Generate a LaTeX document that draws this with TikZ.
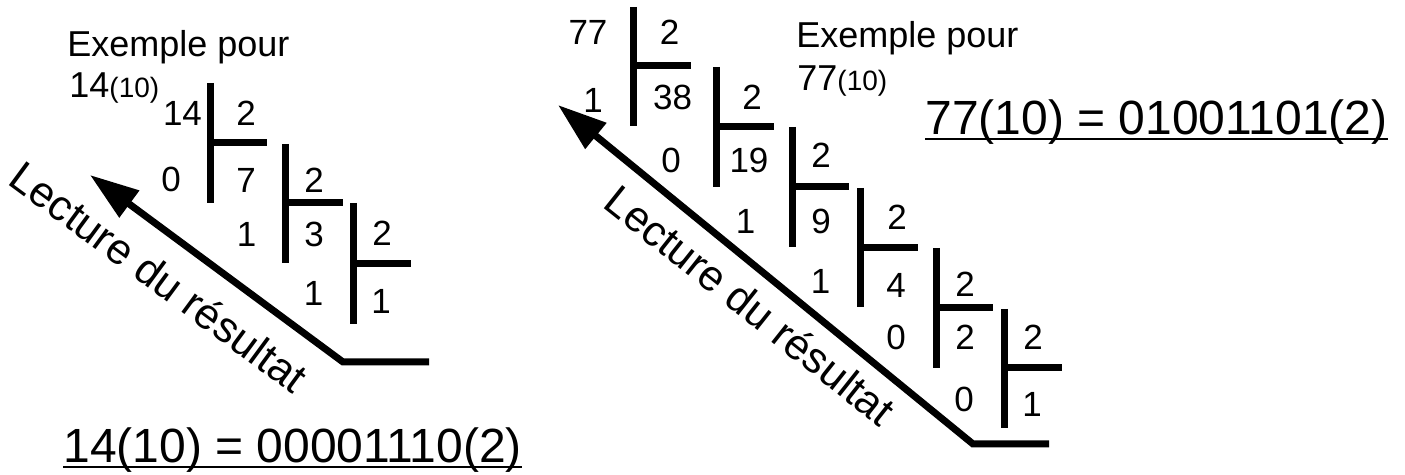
\documentclass[tikz,border=0pt]{standalone}
\usepackage{fontspec}
\setmainfont{Liberation Sans}
\usetikzlibrary{arrows.meta}

\begin{document}
\begin{tikzpicture}[x=0.5pt,y=-0.5pt,line join=miter,
  num/.style={font=\fontsize{17.5pt}{20pt}\selectfont,anchor=base,inner sep=0pt},
  title/.style={font=\fontsize{18pt}{21pt}\selectfont,anchor=base west,inner sep=0pt},
  eqn/.style={font=\fontsize{24pt}{28pt}\selectfont,anchor=base west,inner sep=0pt},
  lecture/.style={font=\fontsize{21.5pt}{25pt}\selectfont,anchor=base west,inner sep=0pt},
  bar/.style={line width=3.5pt},
  readarrow/.style={bar,-{Triangle[length=24.5pt,width=16pt]}}]
  \useasboundingbox (0,0) rectangle (1405,475);

  \node[title] (aTitle) at (67,57) {Exemple pour};
  \node[title] (aBase) at (69,98) {14{\fontsize{14pt}{16pt}\selectfont(10)}};

  \draw[bar] (210,83) -- (210,203);
  \draw[bar] (210,143) -- (267,143);
  \draw[bar] (285,144) -- (285,263);
  \draw[bar] (285,203) -- (343,203);
  \draw[bar] (353,203) -- (353,324);
  \draw[bar] (353,264) -- (411,264);

  \node[num] (aN0) at (182.5,126) {14};
  \node[num] (aD0) at (246,126) {2};
  \node[num] (aR0) at (171,192) {0};
  \node[num] (aQ0) at (246,193) {7};
  \node[num] (aD1) at (314,193) {2};
  \node[num] (aR1) at (246.5,247) {1};
  \node[num] (aQ1) at (314,247) {3};
  \node[num] (aD2) at (382,246) {2};
  \node[num] (aR2) at (313.5,306) {1};
  \node[num] (aQ2) at (381,314) {1};

  \coordinate (aEnd) at (429,362);
  \coordinate (aCorner) at (343,362);
  \coordinate (aTip) at (90,175);
  \draw[readarrow] (aEnd) -- (aCorner) -- (aTip);
  \node[lecture,rotate=-36.4] (aRead) at (6,183) {Lecture du résultat};

  \node[eqn] (aResult) at (63,463) {14(10) = 00001110(2)};
  \draw[line width=1.3pt] ([yshift=-2pt]aResult.base west) -- ([yshift=-2pt]aResult.base east);

  \node[title] (bTitle) at (796,48) {Exemple pour};
  \node[title] (bBase) at (797,91) {77{\fontsize{14pt}{16pt}\selectfont(10)}};

  \draw[bar] (633,7) -- (633,126);
  \draw[bar] (633,66) -- (691,66);
  \draw[bar] (716.5,67) -- (716.5,187);
  \draw[bar] (716.5,127) -- (774,127);
  \draw[bar] (792,127) -- (792,247);
  \draw[bar] (792,187) -- (849,187);
  \draw[bar] (860,188) -- (860,307);
  \draw[bar] (860,248) -- (918,248);
  \draw[bar] (936,248) -- (936,368);
  \draw[bar] (936,308) -- (993,308);
  \draw[bar] (1004,309) -- (1004,428);
  \draw[bar] (1004,368) -- (1062,368);

  \node[num] (bN0) at (588,45) {77};
  \node[num] (bD0) at (669.5,45) {2};
  \node[num] (bR0) at (593,113) {1};
  \node[num] (bQ0) at (672.7,110) {38};
  \node[num] (bD1) at (752,110) {2};
  \node[num] (bR1) at (671,173) {0};
  \node[num] (bQ1) at (749,173) {19};
  \node[num] (bD2) at (821,168) {2};
  \node[num] (bR2) at (745.5,234) {1};
  \node[num] (bQ2) at (821,234) {9};
  \node[num] (bD3) at (897,230) {2};
  \node[num] (bR3) at (820.5,294) {1};
  \node[num] (bQ3) at (896,298) {4};
  \node[num] (bD4) at (965,297) {2};
  \node[num] (bR4) at (896,350) {0};
  \node[num] (bQ4) at (965,350) {2};
  \node[num] (bD5) at (1033,350) {2};
  \node[num] (bR5) at (964,412) {0};
  \node[num] (bQ5) at (1032,417) {1};

  \coordinate (bEnd) at (1049,444);
  \coordinate (bCorner) at (973,444);
  \coordinate (bTip) at (558,105);
  \draw[readarrow] (bEnd) -- (bCorner) -- (bTip);
  \node[lecture,rotate=-38.5] (bRead) at (601,206) {Lecture du résultat};

  \node[eqn] (bResult) at (925,135) {77(10) = 01001101(2)};
  \draw[line width=1.3pt] ([yshift=-2pt]bResult.base west) -- ([yshift=-2pt]bResult.base east);
\end{tikzpicture}
\end{document}
